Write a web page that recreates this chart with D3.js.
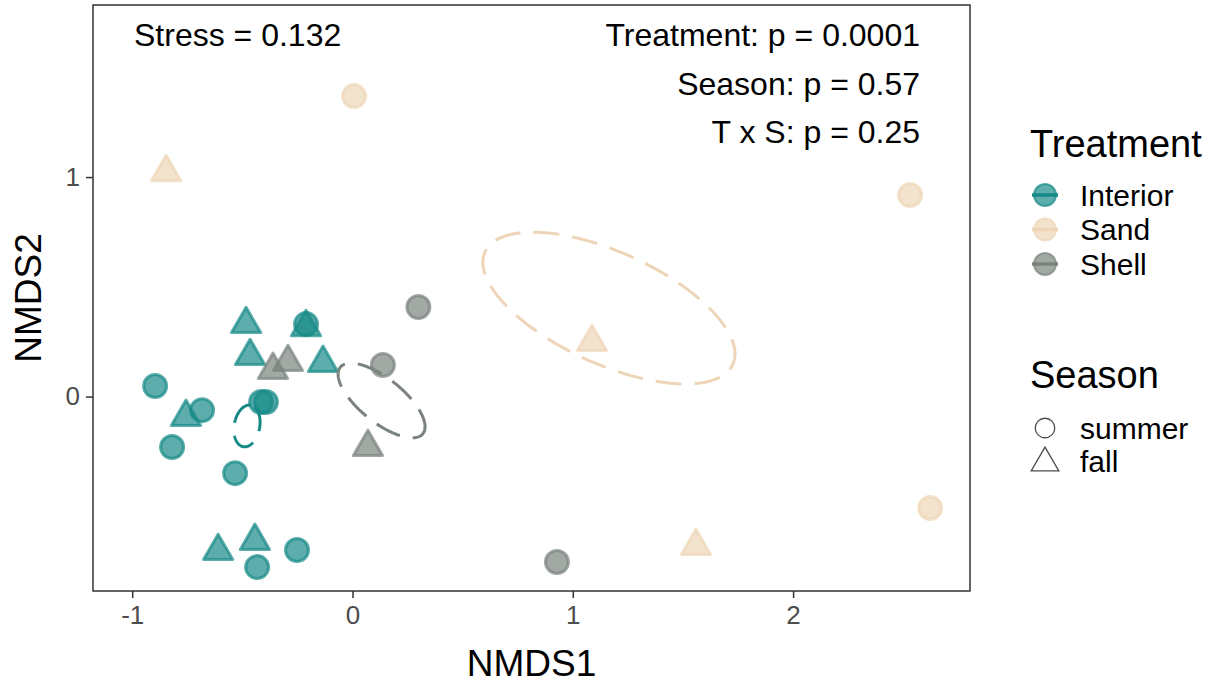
<!DOCTYPE html>
<html>
<head>
<meta charset="utf-8">
<script src="https://cdn.jsdelivr.net/npm/d3@7"></script>
<style>
  html, body { margin: 0; padding: 0; background: #fff; }
  svg { display: block; font-family: "Liberation Sans", Arial, Helvetica, sans-serif; }
</style>
</head>
<body>
<svg id="chart" width="1212" height="683"></svg>
<script>
// ---- data ----
const treatments = ["Interior", "Sand", "Shell"];
const treatmentColors = ["#178a87", "#eed5b7", "#7b837d"];
const seasons = ["summer", "fall"];

const pointTreatment = [
  "Interior","Interior","Interior","Interior","Interior","Interior","Interior","Interior","Interior",
  "Interior","Interior","Interior","Interior","Interior","Interior","Interior",
  "Sand","Sand","Sand","Sand","Sand","Sand",
  "Shell","Shell","Shell","Shell","Shell","Shell"
];
const pointSeason = [
  "summer","summer","summer","summer","summer","summer","summer","summer","summer",
  "fall","fall","fall","fall","fall","fall","fall",
  "summer","fall","summer","fall","summer","fall",
  "summer","summer","fall","fall","fall","summer"
];
const nmds1 = [
  -0.896, -0.819, -0.683, -0.533, -0.415, -0.393, -0.211, -0.252, -0.433,
  -0.483, -0.465, -0.756, -0.134, -0.211, -0.610, -0.443,
  0.007, -0.846, 2.531, 1.087, 2.622, 1.559,
  0.299, 0.138, 0.070, -0.361, -0.293, 0.928
];
const nmds2 = [
  0.048, -0.230, -0.062, -0.349, -0.025, -0.025, 0.330, -0.699, -0.777,
  0.330, 0.184, -0.093, 0.153, 0.316, -0.704, -0.658,
  1.369, 1.022, 0.918, 0.248, -0.508, -0.681,
  0.408, 0.144, -0.230, 0.121, 0.157, -0.754
];

// ellipses (centre, semi-axes in NMDS units, rotation in degrees)
const ellipseTreatment = ["Interior", "Sand", "Shell"];
const ellipseCx = [-0.479, 1.164, 0.132];
const ellipseCy = [-0.134, 0.403, -0.018];
const ellipseA = [0.096, 0.618, 0.241];
const ellipseB = [0.058, 0.255, 0.099];
const ellipseAngle = [80, -24.5, -39];

const xTicks = [-1, 0, 1, 2];
const xTickLabels = ["-1", "0", "1", "2"];
const yTicks = [0, 1];
const yTickLabels = ["0", "1"];
const annotationLeft = "Stress = 0.132";
const annotationRight = ["Treatment: p = 0.0001", "Season: p = 0.57", "T x S: p = 0.25"];

// ---- layout ----
const svg = d3.select("#chart");
const panel = { left: 93, right: 970, top: 5, bottom: 591 };
const x = d3.scaleLinear().domain([-1.178, 2.803]).range([panel.left, panel.right]);
const y = d3.scaleLinear().domain([-0.886, 1.784]).range([panel.bottom, panel.top]);
const color = d3.scaleOrdinal().domain(treatments).range(treatmentColors);
const shape = d3.scaleOrdinal().domain(seasons).range([d3.symbolCircle, d3.symbolTriangle]);
const shapeSize = d3.scaleOrdinal().domain(seasons).range([415, 370]);

// panel background
svg.append("rect")
  .attr("x", panel.left).attr("y", panel.top)
  .attr("width", panel.right - panel.left).attr("height", panel.bottom - panel.top)
  .attr("fill", "#fff");

// points
const points = nmds1.map((v, i) => ({ x: v, y: nmds2[i], t: pointTreatment[i], s: pointSeason[i] }));
svg.append("g").selectAll("path").data(points).join("path")
  .attr("transform", d => `translate(${x(d.x)},${y(d.y)})`)
  .attr("d", d => d3.symbol().type(shape(d.s)).size(shapeSize(d.s))())
  .attr("fill", d => color(d.t))
  .attr("fill-opacity", 0.7)
  .attr("stroke", d => color(d.t))
  .attr("stroke-opacity", 0.7)
  .attr("stroke-width", 3)
  .attr("stroke-linejoin", "round");

// ellipses
const ellLine = d3.line().x(p => x(p[0])).y(p => y(p[1])).curve(d3.curveLinearClosed);
ellipseTreatment.forEach((t, i) => {
  const th = ellipseAngle[i] * Math.PI / 180;
  const pts = d3.range(0, 200).map(k => {
    const u = k / 200 * 2 * Math.PI;
    const ex = ellipseA[i] * Math.cos(u), ey = ellipseB[i] * Math.sin(u);
    return [ellipseCx[i] + ex * Math.cos(th) - ey * Math.sin(th),
            ellipseCy[i] + ex * Math.sin(th) + ey * Math.cos(th)];
  });
  svg.append("path")
    .attr("d", ellLine(pts))
    .attr("fill", "none")
    .attr("stroke", color(t))
    .attr("stroke-width", 3)
    .attr("stroke-dasharray", "26,13");
});

// panel border
svg.append("rect")
  .attr("x", panel.left).attr("y", panel.top)
  .attr("width", panel.right - panel.left).attr("height", panel.bottom - panel.top)
  .attr("fill", "none").attr("stroke", "#333").attr("stroke-width", 1.5);

// axes
const xAxis = svg.append("g").attr("transform", `translate(0,${panel.bottom})`)
  .call(d3.axisBottom(x).tickValues(xTicks).tickSize(7).tickPadding(6)
    .tickFormat((d, i) => xTickLabels[i]));
const yAxis = svg.append("g").attr("transform", `translate(${panel.left},0)`)
  .call(d3.axisLeft(y).tickValues(yTicks).tickSize(7).tickPadding(6)
    .tickFormat((d, i) => yTickLabels[i]));
[xAxis, yAxis].forEach(g => {
  g.select(".domain").remove();
  g.selectAll(".tick line").attr("stroke", "#333").attr("stroke-width", 1.5);
  g.selectAll(".tick text").attr("fill", "#4d4d4d").style("font-size", "26px")
    .style("font-family", "'Liberation Sans', Arial, sans-serif");
});
xAxis.selectAll(".tick text").attr("dy", "0.75em");

// axis titles
svg.append("text").attr("x", (panel.left + panel.right) / 2).attr("y", 676)
  .attr("text-anchor", "middle").style("font-size", "37px").text("NMDS1");
svg.append("text")
  .attr("transform", `translate(41,${(panel.top + panel.bottom) / 2}) rotate(-90)`)
  .attr("text-anchor", "middle").style("font-size", "37px").text("NMDS2");

// annotations
svg.append("text").attr("x", 134).attr("y", 46).style("font-size", "32px").text(annotationLeft);
annotationRight.forEach((s, i) => {
  svg.append("text").attr("x", 920).attr("y", 46 + i * 48.5)
    .attr("text-anchor", "end").style("font-size", "32px").text(s);
});

// legend: Treatment
const lg = svg.append("g");
lg.append("text").attr("x", 1030).attr("y", 157).style("font-size", "38px").text("Treatment");
treatments.forEach((t, i) => {
  const cy = 195 + i * 34.5;
  lg.append("circle").attr("cx", 1045).attr("cy", cy).attr("r", 11)
    .attr("fill", color(t)).attr("fill-opacity", 0.7)
    .attr("stroke", color(t)).attr("stroke-opacity", 0.7).attr("stroke-width", 2);
  lg.append("line").attr("x1", 1032).attr("x2", 1058).attr("y1", cy).attr("y2", cy)
    .attr("stroke", color(t)).attr("stroke-width", 3.5);
  lg.append("text").attr("x", 1080).attr("y", cy).attr("dy", "0.36em")
    .style("font-size", "30px").text(t);
});

// legend: Season
lg.append("text").attr("x", 1030).attr("y", 388).style("font-size", "38px").text("Season");
seasons.forEach((s, i) => {
  const cy = 428 + i * 33;
  lg.append("path").attr("transform", `translate(1045,${cy + (s === "fall" ? 2 : 0)})`)
    .attr("d", d3.symbol().type(shape(s)).size(s === "fall" ? 330 : 300)())
    .attr("fill", "none").attr("stroke", "#4d4d4d").attr("stroke-width", 1.3);
  lg.append("text").attr("x", 1080).attr("y", cy).attr("dy", "0.36em")
    .style("font-size", "30px").text(s);
});
</script>
</body>
</html>
